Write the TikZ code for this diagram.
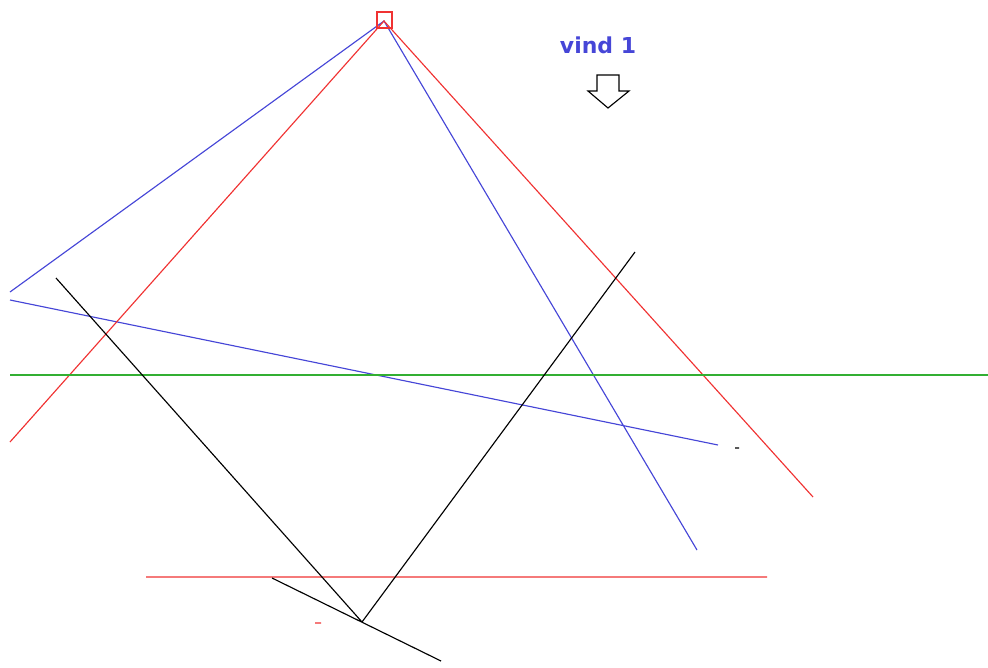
\documentclass[tikz,border=0pt]{standalone}
\usepackage{fontspec}
\setsansfont{DejaVu Sans}
\usepackage{tikz}

\definecolor{lred}{RGB}{240,50,50}
\definecolor{lblue}{RGB}{70,70,215}
\definecolor{lgreen}{RGB}{50,175,50}
\tikzset{thin line/.style = {line width = 0.65pt}}

\begin{document}
\begin{tikzpicture}[x = 0.02cm, y = -0.02cm, thin line]
\useasboundingbox (0, 0) rectangle (988, 667);
\coordinate (top) at (384, 21);
\coordinate (low) at (362, 622);
\draw[lblue] (10, 292) -- (top) -- (697, 550)
(10, 300) -- (718, 445);
\draw[lred] (10, 442) -- (top) -- (813, 497)
(146, 577) -- (767, 577)
(315, 623) -- (321, 623);
\draw[lred] (377, 12) rectangle (392, 28);
\draw[lgreen] (10, 375) -- (988, 375);
\draw[black] (56, 278) -- (low) -- (635, 252)
(272, 578) -- (441, 661)
(735, 448) -- (739, 448);
\node[text = lblue, font = \sffamily\bfseries\fontsize{12.5}{15}\selectfont] (vind) at (598, 45) {vind 1};
\draw[black] (597, 75) -- (619, 75) -- (619, 91) -- (629, 91) -- (608, 108) -- (588, 91) -- (597, 91) -- cycle;
\end{tikzpicture}
\end{document}
